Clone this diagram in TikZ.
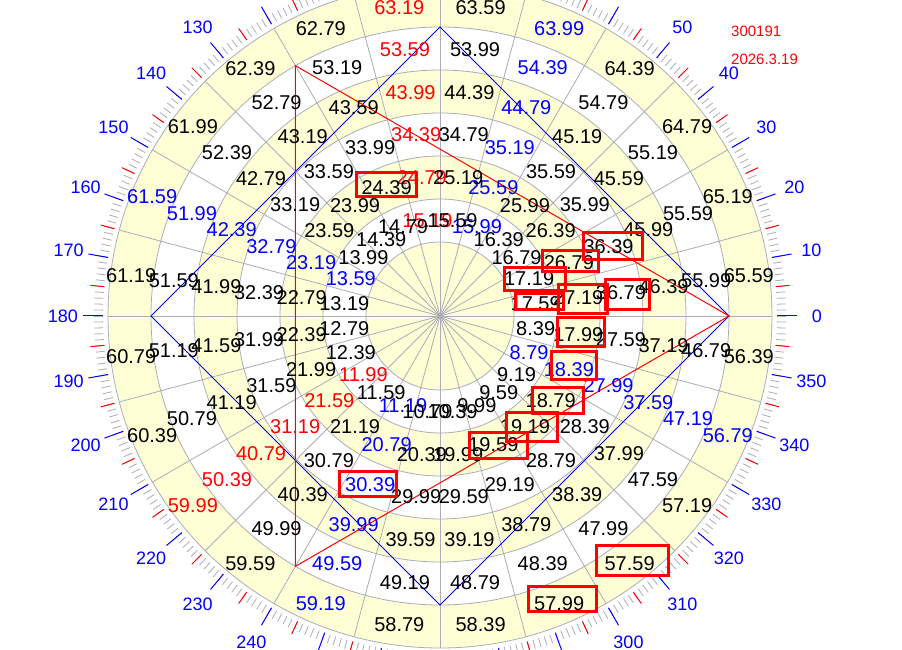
\documentclass[tikz,border=0pt]{standalone}
\usepackage{fontspec}
\setmainfont{Liberation Sans}
\usepackage{tikz}
\definecolor{bandyellow}{RGB}{255,255,214}
\definecolor{gridgray}{RGB}{172,172,184}
\pgfkeys{/pgf/number format/.cd, fixed, fixed zerofill, precision = 2, assume math mode = true}
\tikzset{
    num/.style = {inner sep = 0pt, font = \fontsize{20}{20}\selectfont},
    deg/.style = {inner sep = 0pt, text = blue, font = \fontsize{18}{18}\selectfont},
    stamp/.style = {anchor = west, inner sep = 0pt, text = red, font = \fontsize{15}{15}\selectfont},
    hitbox/.style = {draw = red, line width = 3pt}
}

\begin{document}
\begin{tikzpicture}[x = 1pt, y = 1pt]
    \useasboundingbox (-440, -334) rectangle (462, 316);
    \clip (-440, -334) rectangle (462, 316);
    \fill[white] (-440, -334) rectangle (462, 316);
    \foreach \r/\c in {332/bandyellow, 289/white, 246/bandyellow, 203/white, 160/bandyellow, 117/white, 74/bandyellow}
        \fill[\c] (0, 0) circle (\r pt);
    \foreach \r in {74, 117, ..., 332}
        \draw[gridgray, line width = 0.8pt] (0, 0) circle (\r pt);
    \foreach \a in {0, 15, ..., 345}
        \draw[gridgray, line width = 0.8pt] (0, 0) -- (\a:332pt);
    \foreach \a in {0, ..., 359}
        \draw[gridgray, line width = 0.8pt] (\a:337pt) -- (\a:346pt);
    \foreach \a in {5, 15, ..., 355}
        \draw[red, line width = 1pt] (\a:337pt) -- (\a:351pt);
    \foreach \a in {0, 10, ..., 350} {
        \draw[blue, line width = 1pt] (\a:337pt) -- (\a:357pt);
        \node[deg] (d\a) at (\a:377pt) {\a};
    }
    \coordinate (p0) at (0:289pt);
    \coordinate (p90) at (90:289pt);
    \coordinate (p120) at (120:289pt);
    \coordinate (p180) at (180:289pt);
    \coordinate (p240) at (240:289pt);
    \coordinate (p270) at (270:289pt);
    \draw[blue, line width = 1pt] (p0) -- (p90) -- (p180) -- (p270) -- cycle;
    \draw[red, line width = 1pt] (p0) -- (p120) -- (p240) -- cycle;
    \foreach \k/\c in {1/blue, 7/blue, 13/blue, 19/blue, 9/red, 17/red, 0/black, 2/black, 3/black, 4/black, 5/black, 6/black, 8/black, 10/black, 11/black, 12/black, 14/black, 15/black, 16/black, 18/black, 20/black, 21/black, 22/black, 23/black}
        \foreach \n in {0, ..., 5} {
            \pgfmathsetmacro\val{8.39 + 9.6*\n + 0.4*\k}
            \pgfmathsetmacro\ang{-7.5 - 15*\k}
            \pgfmathsetmacro\rad{96.5 + 43*\n}
            \node[num, text = \c] (v\n-\k) at (\ang:\rad pt) {\pgfmathprintnumber{\val}};
        }
    \foreach \xa/\ya/\xb/\yb in {-83/143/-23/119, 143/83/202/56, 102/65/158/44, 64/48/125/25, 75/22/123/6, 118/31/167/2, 165/36/209/6, 117/-2/164/-31, 111/-36/156/-64, 92/-72/143/-98, 66/-97/117/-126, 29/-117/87/-143, -100/-156/-43/-181, 156/-229/228/-259, 88/-270/156/-295}
        \draw[hitbox] (\xa, \ya) rectangle (\xb, \yb);
    \node[stamp] (code) at (291, 285) {300191};
    \node[stamp] (date) at (291, 257) {2026.3.19};
\end{tikzpicture}
\end{document}
